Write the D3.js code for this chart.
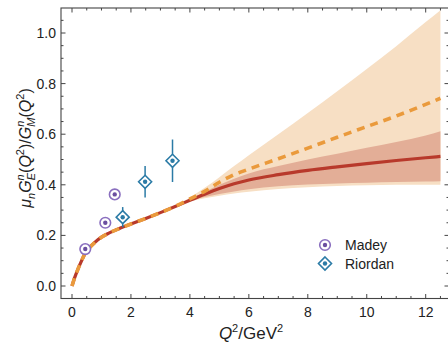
<!DOCTYPE html>
<html><head><meta charset="utf-8">
<script src="https://cdn.jsdelivr.net/npm/d3@7"></script>
<style>body{margin:0;background:#fff}svg{display:block}text{font-family:"Liberation Sans",Arial,sans-serif;fill:#222}</style>
</head><body><svg id="c" width="448" height="344"></svg>
<script>
const q2 = [0,0.1,0.2,0.3,0.45,0.6,0.8,1.0,1.25,1.5,2.0,2.5,3.0,3.5,4.0,4.5,5.0,5.5,6.0,7.0,8.0,9.0,10.0,11.0,12.0,12.5];
const redMid    = [0,0.036,0.066,0.093,0.130,0.152,0.175,0.193,0.209,0.222,0.245,0.267,0.290,0.314,0.339,0.363,0.385,0.404,0.419,0.440,0.457,0.471,0.484,0.496,0.507,0.512];
const orangeMid = [0,0.036,0.066,0.093,0.130,0.152,0.175,0.193,0.209,0.222,0.245,0.267,0.290,0.315,0.344,0.374,0.410,0.440,0.462,0.503,0.545,0.588,0.630,0.672,0.718,0.742];
const orangeHi  = [0,0.036,0.066,0.093,0.130,0.152,0.175,0.193,0.209,0.222,0.245,0.267,0.290,0.316,0.350,0.388,0.430,0.474,0.517,0.600,0.684,0.770,0.858,0.948,1.043,1.090];
const orangeLo  = [0,0.036,0.066,0.093,0.130,0.152,0.175,0.193,0.209,0.222,0.245,0.267,0.290,0.313,0.334,0.347,0.357,0.366,0.373,0.383,0.390,0.395,0.398,0.400,0.400,0.400];
const redHi     = [0,0.036,0.066,0.093,0.130,0.152,0.175,0.193,0.209,0.222,0.245,0.267,0.290,0.314,0.343,0.372,0.400,0.424,0.445,0.474,0.500,0.523,0.546,0.569,0.595,0.612];
const redLo     = [0,0.036,0.066,0.093,0.130,0.152,0.175,0.193,0.209,0.222,0.245,0.267,0.290,0.314,0.336,0.352,0.364,0.374,0.382,0.394,0.401,0.405,0.408,0.411,0.413,0.414];
const madeyQ2 = [0.45,1.13,1.45];
const madeyR = [0.146,0.250,0.362];
const riordanQ2 = [1.72,2.48,3.41];
const riordanR = [0.272,0.412,0.495];
const riordanErr = [0.04,0.062,0.084];
const xTicks = [0,2,4,6,8,10,12];
const yTicks = [0,0.2,0.4,0.6,0.8,1.0];

const svg = d3.select('#c');
const x = d3.scaleLinear().domain([0,12]).range([72,425.7]);
const y = d3.scaleLinear().domain([0,1]).range([286,33]);
const L=61, R=449, T=8, B=298.5;

const band = (hi,lo)=>d3.area().x((d,i)=>x(q2[i])).y0((d,i)=>y(lo[i])).y1((d,i)=>y(hi[i])).curve(d3.curveMonotoneX);
svg.append('path').datum(q2).attr('d',band(orangeHi,orangeLo)).attr('fill','#f7dfc4');
svg.append('path').datum(q2).attr('d',band(redHi,redLo)).attr('fill','#e3ae97');
const line = arr=>d3.line().x((d,i)=>x(q2[i])).y((d,i)=>y(arr[i])).curve(d3.curveMonotoneX);
svg.append('path').datum(q2).attr('d',line(redMid)).attr('fill','none').attr('stroke','#b8392b').attr('stroke-width',3.2);
svg.append('path').datum(q2).attr('d',line(orangeMid)).attr('fill','none').attr('stroke','#ea9a3c').attr('stroke-width',3.6).attr('stroke-dasharray','8,6');

// frame
const fc='#444';
svg.append('rect').attr('x',L).attr('y',T).attr('width',R-L).attr('height',B-T).attr('fill','none').attr('stroke',fc).attr('stroke-width',1.1);
const g = svg.append('g').attr('stroke',fc).attr('stroke-width',1);
for(let v=0; v<=12.7; v+=0.5){
  const major = Math.abs(v/2-Math.round(v/2))<1e-6;
  const len = major?4.5:2.5;
  g.append('line').attr('x1',x(v)).attr('x2',x(v)).attr('y1',B).attr('y2',B-len);
  g.append('line').attr('x1',x(v)).attr('x2',x(v)).attr('y1',T).attr('y2',T+len);
}
for(let k=-1;k<=22;k++){
  const v=k*0.05; if(y(v)>B||y(v)<T) continue;
  const major = k%4===0;
  const len = major?4.5:2.5;
  g.append('line').attr('x1',L).attr('x2',L+len).attr('y1',y(v)).attr('y2',y(v));
  g.append('line').attr('x1',R).attr('x2',R-len).attr('y1',y(v)).attr('y2',y(v));
}
svg.selectAll('.xt').data(xTicks).enter().append('text').attr('x',d=>x(d)).attr('y',317).attr('text-anchor','middle').attr('font-size',14).text(d=>d);
svg.selectAll('.yt').data(yTicks).enter().append('text').attr('x',56).attr('y',d=>y(d)+5).attr('text-anchor','end').attr('font-size',14).text(d=>d.toFixed(1));

// axis titles
const xl = svg.append('text').attr('x',251).attr('y',339).attr('text-anchor','middle').attr('font-size',17);
xl.append('tspan').attr('font-style','italic').text('Q');
xl.append('tspan').attr('font-size',11).attr('dy',-7).text('2');
xl.append('tspan').attr('dy',7).text('/GeV');
xl.append('tspan').attr('font-size',11).attr('dy',-7).text('2');

const yl = svg.append('text').attr('transform','translate(31,148) rotate(-90)').attr('text-anchor','middle').attr('font-size',16).attr('font-style','italic');
yl.append('tspan').text('μ');
yl.append('tspan').attr('font-size',11).attr('dy',4).text('n');
yl.append('tspan').attr('dy',-4).text('G');
yl.append('tspan').attr('font-size',11).attr('dy',-7).text('n');
yl.append('tspan').attr('font-size',11).attr('dx',-6).attr('dy',11).text('E');
yl.append('tspan').attr('dy',-4).attr('font-style','normal').text('(');
yl.append('tspan').text('Q');
yl.append('tspan').attr('font-size',11).attr('dy',-7).attr('font-style','normal').text('2');
yl.append('tspan').attr('dy',7).attr('font-style','normal').text(')/');
yl.append('tspan').text('G');
yl.append('tspan').attr('font-size',11).attr('dy',-7).text('n');
yl.append('tspan').attr('font-size',11).attr('dx',-6).attr('dy',11).text('M');
yl.append('tspan').attr('dy',-4).attr('font-style','normal').text('(');
yl.append('tspan').text('Q');
yl.append('tspan').attr('font-size',11).attr('dy',-7).attr('font-style','normal').text('2');
yl.append('tspan').attr('dy',7).attr('font-style','normal').text(')');

// markers
const purple='#6b4fa0', blue='#2b7ba6';
function madeyMarker(sel,cx,cy){
  sel.append('circle').attr('cx',cx).attr('cy',cy).attr('r',5.3).attr('fill','#fff').attr('stroke','#8a6fbf').attr('stroke-width',1.6);
  sel.append('circle').attr('cx',cx).attr('cy',cy).attr('r',2.2).attr('fill',purple);
}
function riordanMarker(sel,cx,cy){
  const s=6.5;
  sel.append('path').attr('d',`M${cx},${cy-s}L${cx+s},${cy}L${cx},${cy+s}L${cx-s},${cy}Z`).attr('fill','#fff').attr('stroke',blue).attr('stroke-width',1.6);
  sel.append('circle').attr('cx',cx).attr('cy',cy).attr('r',2.2).attr('fill',blue);
}
riordanQ2.forEach((q,i)=>{
  svg.append('line').attr('x1',x(q)).attr('x2',x(q)).attr('y1',y(riordanR[i]-riordanErr[i])).attr('y2',y(riordanR[i]+riordanErr[i])).attr('stroke',blue).attr('stroke-width',1.5);
});
madeyQ2.forEach((q,i)=>madeyMarker(svg,x(q),y(madeyR[i])));
riordanQ2.forEach((q,i)=>riordanMarker(svg,x(q),y(riordanR[i])));

// legend
madeyMarker(svg,325,245);
riordanMarker(svg,325,263.5);
svg.append('text').attr('x',345).attr('y',250).attr('font-size',14).text('Madey');
svg.append('text').attr('x',345).attr('y',268.5).attr('font-size',14).text('Riordan');
</script></body></html>
